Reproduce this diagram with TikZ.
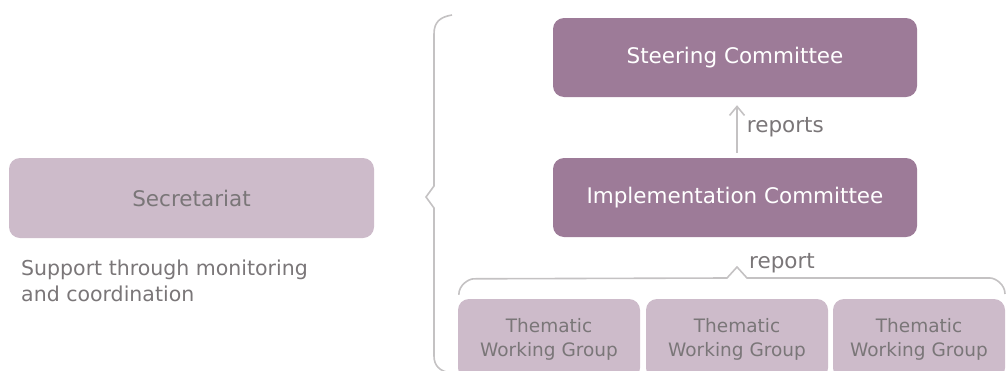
\documentclass[tikz,border=0pt]{standalone}
\usepackage{fontspec}
\setmainfont{DejaVu Sans}
\usetikzlibrary{arrows.meta}
\definecolor{darkbox}{HTML}{9D7B98}
\definecolor{lightbox}{HTML}{CDBBCA}
\definecolor{txtgray}{HTML}{7A7678}
\definecolor{linegray}{HTML}{C4C2C3}
\tikzset{
  darkstyle/.style={rectangle, rounded corners=11pt, fill=darkbox, text=white,
    minimum width=364pt, minimum height=79pt, font=\fontsize{21.5}{25}\selectfont, inner sep=0pt},
  lightstyle/.style={rectangle, rounded corners=11pt, fill=lightbox, text=txtgray,
    minimum height=80pt, inner sep=0pt},
  grpstyle/.style={lightstyle, minimum width=182pt, align=center, font=\fontsize{18.5}{24}\selectfont},
  lbl/.style={text=txtgray, inner sep=0pt},
  brace/.style={draw=linegray, line width=1.6pt},
  arr/.style={draw=linegray, line width=1.8pt, -{Straight Barb[length=9pt,width=15pt,line width=1.6pt]}}
}
\begin{document}
\begin{tikzpicture}[x=1pt,y=-1pt]
\useasboundingbox (0,0) rectangle (1006,370);
\clip (0,0) rectangle (1006,370);
\node[lightstyle, minimum width=365pt, font=\fontsize{21.5}{25}\selectfont] (sec) at (191.5,198) {Secretariat};
\node[lbl, anchor=north west, align=left, font=\fontsize{20.5}{26}\selectfont] (sup) at (21,260) {Support through monitoring\\and coordination};
\node[darkstyle] (steer) at (735,57.5) {Steering Committee};
\node[darkstyle] (impl) at (735,197.5) {Implementation Committee};
\node[grpstyle] (g1) at (549,339) {Thematic\\Working Group};
\node[grpstyle] (g2) at (737,339) {Thematic\\Working Group};
\node[grpstyle, minimum width=172pt] (g3) at (919,339) {Thematic\\Working Group};
\draw[arr, shorten <=5pt, shorten >=8pt] ([xshift=2pt]impl.north) -- ([xshift=2pt]steer.south)
  node[lbl, pos=0.5, anchor=west, xshift=9pt, font=\fontsize{21.5}{25}\selectfont] (rep) {reports};
\coordinate (peak) at (737,267);
\draw[brace] (g1.north west) ++(1,-4) .. controls +(0,-10) and +(-5,0) .. ++(15,-16) -- (727,278) -- (peak) -- (747,278) -- (990,278)
  .. controls +(5,0) and +(0,-10) .. (1005,294);
\node[lbl, anchor=south west, font=\fontsize{21.5}{25}\selectfont] (rpt) at (749,273) {report};
\draw[brace] (452,15) .. controls (440,17) and (434,22) .. (434,34) -- (434,186) -- (426,197) -- (434,208) -- (434,356)
  .. controls (434,366) and (440,371) .. (450,373);
\end{tikzpicture}
\end{document}
